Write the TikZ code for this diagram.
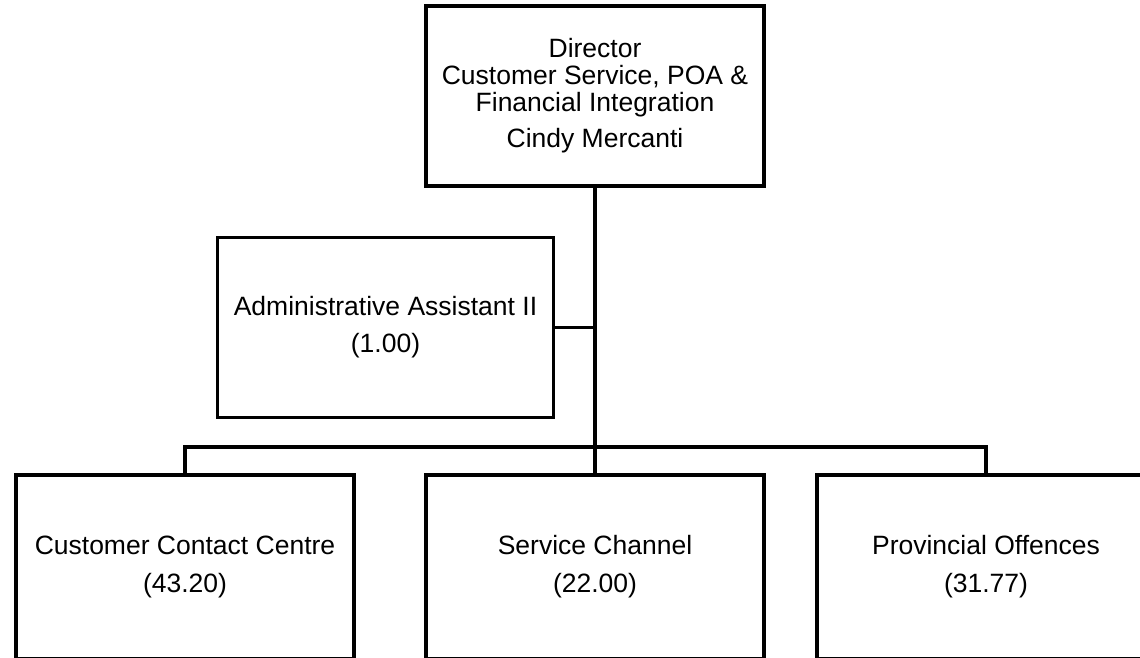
\documentclass[tikz,border=0pt]{standalone}
\usepackage{fontspec}
\setmainfont{Liberation Sans}
\begin{document}
\begin{tikzpicture}[x=1pt, y=-1pt, line width=3.5pt,
	box/.style={draw, minimum width=338pt, minimum height=180pt, inner sep=0pt, align=center, font=\fontsize{26.5}{27}\selectfont}]

	\useasboundingbox (0,0) rectangle (1140,658);
	\clip (0,0) rectangle (1140,658);

	\node[box] (director) at (595,96) {Director\\Customer Service, POA \&\\Financial Integration\\[9pt]Cindy Mercanti};
	\node[box, minimum width=336pt] (admin) at (385.5,327.5) {Administrative Assistant II\\[10pt](1.00)};

	\node[box, minimum height=184pt] (contact) at (185,567) {Customer Contact Centre\\[11pt](43.20)};
	\node[box, minimum height=184pt] (channel) at (595,567) {Service Channel\\[11pt](22.00)};
	\node[box, minimum height=184pt] (offences) at (986,567) {Provincial Offences\\[11pt](31.77)};

	\coordinate (bus) at (595,447);
	\draw (director.south) -- (bus);
	\draw (admin.east) -- (admin.east -| director.south);
	\draw (contact.north) |- (bus) -| (offences.north);
	\draw (bus) -- (channel.north);
\end{tikzpicture}
\end{document}
